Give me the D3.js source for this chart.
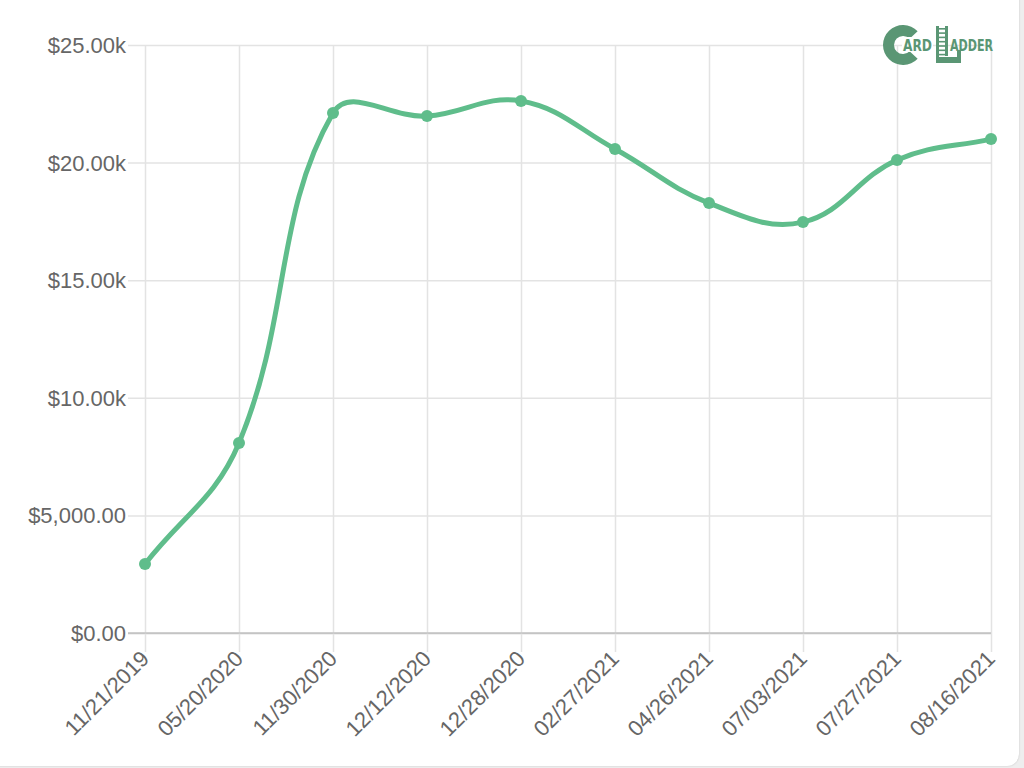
<!DOCTYPE html>
<html>
<head>
<meta charset="utf-8">
<script src="https://cdn.jsdelivr.net/npm/d3@7"></script>
<style>
  html, body { margin: 0; padding: 0; background: #eeeeee; }
  body { width: 1024px; height: 768px; overflow: hidden; position: relative; }
  #card { position: absolute; left: -12px; top: -12px; width: 1031px; height: 778px; background: #fff;
          border-radius: 12px; box-shadow: 0 0 2px rgba(0,0,0,0.18); }
  svg { position: absolute; left: 0; top: 0; }
</style>
</head>
<body>
<div id="card"></div>
<svg id="chart" width="1024" height="768"></svg>
<script>
const dates = ["11/21/2019","05/20/2020","11/30/2020","12/12/2020","12/28/2020","02/27/2021","04/26/2021","07/03/2021","07/27/2021","08/16/2021"];
const prices = [2930, 8080, 22110, 21980, 22620, 20580, 18280, 17470, 20110, 21000];
const yTickValues = [0, 5000, 10000, 15000, 20000, 25000];
const yTickLabels = ["$0.00", "$5,000.00", "$10.00k", "$15.00k", "$20.00k", "$25.00k"];

(function () {
const svg = d3.select("#chart");
const mLeft = 145, mRight = 991, mTop = 45, mBottom = 633;
const x = d3.scalePoint().domain(dates).range([mLeft, mRight]);
const y = d3.scaleLinear().domain([0, 25000]).range([mBottom, mTop]);

const gridColor = "#e3e3e3";
const font = "'Liberation Sans', Arial, Helvetica, sans-serif";

// horizontal grid + y labels
const yAxis = d3.axisLeft(y).tickValues(yTickValues)
  .tickFormat((d, i) => yTickLabels[i])
  .tickSize(-(mRight - mLeft) - 17).tickPadding(2);
const gy = svg.append("g").attr("transform", `translate(${mRight},0)`).call(yAxis);
gy.select(".domain").remove();
gy.selectAll(".tick line").attr("stroke", (d) => d === 0 ? "#c4c4c4" : gridColor).attr("stroke-width", 1.5)
  .attr("x1", 0).attr("x2", -(mRight - mLeft) - 17);
gy.selectAll(".tick text").attr("x", -(mRight - mLeft) - 19).attr("text-anchor", "end")
  .attr("fill", "#666").style("font-family", font).style("font-size", "22px").attr("dy", "0.34em");

// vertical grid + x labels
const xAxis = d3.axisBottom(x).tickSize(-(mBottom - mTop)).tickPadding(0);
const gx = svg.append("g").attr("transform", `translate(0,${mBottom})`).call(xAxis);
gx.select(".domain").remove();
gx.selectAll(".tick line").attr("stroke", gridColor).attr("stroke-width", 1.5)
  .attr("y1", 19).attr("y2", -(mBottom - mTop));
gx.selectAll(".tick text")
  .attr("fill", "#666").style("font-family", font).style("font-size", "22px")
  .attr("text-anchor", "end").attr("dy", null).attr("y", 0)
  .attr("transform", "translate(5,27) rotate(-45)");
// zero line on top of verticals
svg.append("line").attr("x1", mLeft - 17).attr("x2", mRight).attr("y1", y(0)).attr("y2", y(0))
  .attr("stroke", "#c4c4c4").attr("stroke-width", 1.5);

// Chart.js-style spline (tension 0.4)
const pts = dates.map((d, i) => ({ x: x(d), y: y(prices[i]) }));
const t = 0.4;
pts.forEach((p, i) => {
  const p0 = i > 0 ? pts[i - 1] : p;
  const p2 = i < pts.length - 1 ? pts[i + 1] : p;
  const d01 = Math.hypot(p.x - p0.x, p.y - p0.y);
  const d12 = Math.hypot(p2.x - p.x, p2.y - p.y);
  let s01 = d01 / (d01 + d12), s12 = d12 / (d01 + d12);
  if (!isFinite(s01)) s01 = 0; if (!isFinite(s12)) s12 = 0;
  const fa = t * s01, fb = t * s12;
  p.cpPrev = { x: p.x - fa * (p2.x - p0.x), y: p.y - fa * (p2.y - p0.y) };
  p.cpNext = { x: p.x + fb * (p2.x - p0.x), y: p.y + fb * (p2.y - p0.y) };
});
const path = d3.path();
path.moveTo(pts[0].x, pts[0].y);
for (let i = 1; i < pts.length; i++) {
  const a = pts[i - 1], b = pts[i];
  path.bezierCurveTo(a.cpNext.x, a.cpNext.y, b.cpPrev.x, b.cpPrev.y, b.x, b.y);
}
const green = "#5fbd8b";
svg.append("path").attr("d", path.toString()).attr("fill", "none")
  .attr("stroke", green).attr("stroke-width", 5).attr("stroke-linejoin", "round");
svg.append("g").selectAll("circle").data(dates).join("circle")
  .attr("cx", d => x(d)).attr("cy", (d, i) => y(prices[i])).attr("r", 6).attr("fill", green);

// Logo
const logoColor = "#5a9674";
const logo = svg.append("g").attr("transform", "translate(903,45)");
logo.append("path").attr("fill", logoColor)
  .attr("d", d3.arc().innerRadius(9).outerRadius(20).startAngle(Math.PI / 2 + 0.75).endAngle(2.5 * Math.PI - 0.75)());
logo.append("rect").attr("x", -1).attr("y", -8).attr("width", 31).attr("height", 15).attr("fill", "#fff");
logo.append("text").attr("x", 0).attr("y", 6).text("ARD").attr("fill", logoColor)
  .style("font-family", "'DejaVu Sans', sans-serif").style("font-weight", "bold").style("font-size", "15px")
  .attr("textLength", 29).attr("lengthAdjust", "spacingAndGlyphs");
const lad = logo.append("g").attr("fill", logoColor);
lad.append("rect").attr("x", 33).attr("y", -19).attr("width", 3).attr("height", 37);
lad.append("rect").attr("x", 42).attr("y", -19).attr("width", 3).attr("height", 30);
for (let k = 0; k < 7; k++) lad.append("rect").attr("x", 35).attr("y", -17 + k * 4.3).attr("width", 8).attr("height", 1.6);
lad.append("rect").attr("x", 33).attr("y", 12).attr("width", 25).attr("height", 6);
lad.append("rect").attr("x", 54).attr("y", 5).attr("width", 4).attr("height", 13);
logo.append("text").attr("x", 47).attr("y", 6).text("ADDER").attr("fill", logoColor)
  .style("font-family", "'DejaVu Sans', sans-serif").style("font-weight", "bold").style("font-size", "15px")
  .attr("textLength", 43).attr("lengthAdjust", "spacingAndGlyphs");
})();
</script>
</body>
</html>
